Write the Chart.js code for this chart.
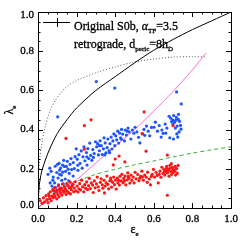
<!DOCTYPE html>
<html>
<head>
<meta charset="utf-8">
<script src="https://cdn.jsdelivr.net/npm/chart.js@4/dist/chart.umd.min.js"></script>
<style>
html, body { margin: 0; padding: 0; background: #fff; }
canvas { display: block; }
</style>
</head>
<body>
<canvas id="lambda-chart" width="245" height="245"></canvas>
<script>
// valores (eps_e, lambda_e)
const tickValues = [0, 0.2, 0.4, 0.6, 0.8, 1.0];
const tickLabels = ['0.0', '0.2', '0.4', '0.6', '0.8', '1.0'];

const solidEps = [0, 0.005, 0.01, 0.02, 0.04, 0.06, 0.1, 0.15, 0.2, 0.3, 0.4, 0.5, 0.6, 0.7, 0.8, 0.9, 1.0];
const solidLam = [0, 0.10, 0.14, 0.19, 0.25, 0.30, 0.38, 0.45, 0.51, 0.60, 0.67, 0.74, 0.805, 0.86, 0.91, 0.955, 1.0];

const dottedEps = [0.005, 0.01, 0.02, 0.036, 0.06, 0.09, 0.12, 0.15, 0.2, 0.3, 0.4, 0.5, 0.6, 0.7, 0.8, 0.87];
const dottedLam = [0.20, 0.26, 0.33, 0.41, 0.49, 0.55, 0.59, 0.62, 0.65, 0.69, 0.72, 0.745, 0.76, 0.77, 0.772, 0.77];

const pinkEps = [0, 0.1, 0.2, 0.3, 0.4, 0.5, 0.6, 0.7, 0.8, 0.87];
const pinkLam = [0, 0.075, 0.145, 0.23, 0.315, 0.40, 0.495, 0.595, 0.705, 0.79];

const greenEps = [0, 0.05, 0.1, 0.2, 0.3, 0.4, 0.5, 0.6, 0.7, 0.8, 0.9, 1.0];
const greenLam = [0, 0.05, 0.09, 0.135, 0.172, 0.198, 0.22, 0.24, 0.26, 0.28, 0.297, 0.312];

const bluePoints = [
  [0.302,0.645],[0.398,0.612],[0.102,0.465],[0.718,0.592],[0.742,0.531],
  [0.052,0.172],[0.061,0.203],[0.068,0.187],[0.079,0.158],[0.086,0.128],[0.091,0.104],[0.089,0.213],
  [0.097,0.181],[0.101,0.223],[0.104,0.153],[0.107,0.118],[0.112,0.193],[0.109,0.228],[0.117,0.204],
  [0.121,0.168],[0.123,0.141],[0.127,0.219],[0.131,0.123],[0.128,0.183],[0.136,0.212],[0.141,0.148],
  [0.082,0.093],[0.072,0.112],[0.096,0.082],[0.119,0.101],[0.152,0.238],[0.156,0.198],[0.162,0.177],
  [0.171,0.252],[0.166,0.223],[0.182,0.163],[0.188,0.201],[0.159,0.139],[0.174,0.196],[0.183,0.232],
  [0.192,0.262],[0.143,0.187],[0.133,0.243],[0.112,0.172],[0.147,0.212],[0.063,0.128],[0.077,0.142],
  [0.198,0.302],[0.203,0.249],[0.206,0.218],[0.212,0.272],[0.218,0.228],[0.224,0.291],[0.229,0.203],
  [0.233,0.261],[0.238,0.312],[0.243,0.241],[0.251,0.283],[0.254,0.219],[0.258,0.303],[0.263,0.252],
  [0.268,0.331],[0.273,0.268],[0.279,0.243],[0.284,0.298],[0.291,0.278],[0.298,0.338],[0.304,0.312],
  [0.309,0.328],[0.313,0.271],[0.318,0.292],[0.322,0.343],[0.328,0.318],[0.333,0.273],[0.339,0.302],
  [0.342,0.358],[0.348,0.332],[0.352,0.281],[0.358,0.308],[0.362,0.352],[0.368,0.292],[0.373,0.328],
  [0.379,0.362],[0.383,0.301],[0.388,0.342],[0.393,0.378],[0.398,0.318],[0.403,0.368],[0.408,0.348],
  [0.413,0.392],[0.418,0.331],[0.423,0.382],[0.428,0.358],[0.433,0.401],[0.439,0.377],[0.448,0.342],
  [0.452,0.398],[0.458,0.372],[0.467,0.408],[0.472,0.388],[0.481,0.352],[0.489,0.398],[0.497,0.382],
  [0.503,0.412],[0.512,0.388],[0.521,0.361],[0.528,0.332],[0.541,0.378],[0.549,0.401],[0.562,0.418],
  [0.571,0.392],[0.579,0.368],[0.601,0.412],[0.608,0.438],[0.619,0.392],[0.628,0.421],[0.638,0.362],
  [0.648,0.381],[0.659,0.428],[0.668,0.408],[0.679,0.468],[0.688,0.458],[0.698,0.448],[0.703,0.472],
  [0.708,0.438],[0.717,0.462],[0.721,0.418],[0.728,0.478],[0.733,0.442],[0.741,0.402],[0.731,0.388],
  [0.719,0.378],[0.712,0.408],[0.699,0.428],[0.692,0.441],[0.738,0.422],[0.724,0.362],[0.702,0.352],
  [0.683,0.358],[0.662,0.382],[0.642,0.398],[0.207,0.192],[0.253,0.261],[0.318,0.318],[0.371,0.282],
  [0.432,0.351],[0.462,0.392],[0.553,0.371],[0.588,0.411],[0.714,0.448],[0.727,0.452],[0.287,0.258],
  [0.346,0.271]
];

const redPoints = [
  [0.55,0.49],[0.275,0.45],[0.24,0.42],[0.145,0.355],[0.70,0.42],[0.54,0.38],[0.67,0.065],
  [0.42,0.265],[0.56,0.29],[0.67,0.27],[0.45,0.235],[0.40,0.25],[0.39,0.22],[0.24,0.30],
  [0.012,0.038],[0.021,0.024],[0.028,0.052],[0.034,0.031],[0.041,0.063],[0.047,0.043],[0.052,0.027],
  [0.055,0.072],[0.061,0.048],[0.064,0.083],[0.068,0.037],[0.073,0.061],[0.076,0.094],[0.079,0.052],
  [0.083,0.071],[0.086,0.104],[0.088,0.058],[0.093,0.082],[0.097,0.047],[0.099,0.091],[0.103,0.068],
  [0.106,0.113],[0.109,0.057],[0.114,0.087],[0.117,0.076],[0.121,0.101],[0.124,0.066],[0.127,0.122],
  [0.131,0.088],[0.134,0.079],[0.137,0.109],[0.142,0.097],[0.146,0.069],[0.149,0.124],[0.151,0.086],
  [0.156,0.113],[0.158,0.078],[0.162,0.103],[0.166,0.132],[0.168,0.072],[0.173,0.093],[0.177,0.114],
  [0.181,0.121],[0.185,0.083],[0.188,0.102],[0.193,0.134],[0.196,0.088],[0.203,0.112],[0.207,0.081],
  [0.212,0.098],[0.216,0.124],[0.221,0.092],[0.226,0.142],[0.231,0.108],[0.237,0.083],[0.242,0.119],
  [0.246,0.101],[0.252,0.133],[0.256,0.094],[0.262,0.114],[0.266,0.151],[0.271,0.099],[0.276,0.128],
  [0.283,0.117],[0.286,0.079],[0.292,0.138],[0.296,0.103],[0.303,0.123],[0.307,0.158],[0.312,0.108],
  [0.316,0.089],[0.323,0.131],[0.327,0.149],[0.333,0.118],[0.336,0.101],[0.342,0.141],[0.344,0.077],
  [0.348,0.112],[0.353,0.128],[0.357,0.163],[0.362,0.121],[0.366,0.098],[0.372,0.139],[0.376,0.153],
  [0.381,0.107],[0.386,0.131],[0.392,0.158],[0.396,0.119],[0.402,0.142],[0.405,0.097],[0.411,0.153],
  [0.414,0.128],[0.422,0.117],[0.425,0.162],[0.431,0.138],[0.435,0.172],[0.441,0.129],[0.444,0.151],
  [0.451,0.163],[0.455,0.118],[0.462,0.144],[0.465,0.179],[0.471,0.152],[0.476,0.127],[0.482,0.168],
  [0.486,0.141],[0.493,0.158],[0.498,0.128],[0.503,0.182],[0.508,0.149],[0.517,0.171],[0.523,0.139],
  [0.532,0.161],[0.538,0.188],[0.546,0.142],[0.553,0.168],[0.561,0.157],[0.568,0.183],[0.576,0.148],
  [0.583,0.118],[0.592,0.172],[0.598,0.197],[0.604,0.158],[0.612,0.181],[0.618,0.166],[0.623,0.128],
  [0.632,0.188],[0.637,0.157],[0.642,0.208],[0.648,0.176],[0.652,0.196],[0.657,0.168],[0.661,0.187],
  [0.667,0.212],[0.671,0.179],[0.676,0.198],[0.679,0.162],[0.684,0.218],[0.688,0.186],[0.692,0.171],
  [0.697,0.207],[0.701,0.182],[0.704,0.196],[0.709,0.188],[0.713,0.168],[0.718,0.201],[0.722,0.177],
  [0.726,0.217],[0.691,0.226],[0.058,0.062],[0.081,0.088],[0.112,0.098],[0.138,0.084],[0.171,0.104],
  [0.378,0.142],[0.418,0.141],[0.448,0.138],[0.468,0.161],[0.527,0.152],[0.587,0.161],[0.655,0.183],
  [0.673,0.192],[0.686,0.203],[0.699,0.191],[0.711,0.212],[0.664,0.201],[0.628,0.172],[0.566,0.131],
  [0.541,0.159]
];

const serif = '"Liberation Serif", "Times New Roman", serif';

function curva(xs, ys) {
  return xs.map((v, i) => ({ x: v, y: ys[i] }));
}

// texto com subscritos: [texto, sub?, italico?]
function escreve(ctx, partes, x, y, tam) {
  partes.forEach(([t, sub, it]) => {
    const s = sub ? Math.round(tam * 0.6) : tam;
    ctx.font = (it ? 'italic ' : '') + s + 'px ' + serif;
    ctx.fillText(t, x, y + (sub ? tam * 0.25 : 0));
    ctx.strokeText(t, x, y + (sub ? tam * 0.25 : 0));
    x += ctx.measureText(t).width;
  });
  return x;
}

function largura(ctx, partes, tam) {
  let w = 0;
  partes.forEach(([t, sub, it]) => {
    const s = sub ? Math.round(tam * 0.6) : tam;
    ctx.font = (it ? 'italic ' : '') + s + 'px ' + serif;
    w += ctx.measureText(t).width;
  });
  return w;
}

const eixosIDL = {
  id: 'eixosIDL',
  afterDraw(chart) {
    const { ctx, chartArea: a, scales: { x, y } } = chart;
    ctx.save();
    ctx.strokeStyle = '#000';
    ctx.fillStyle = '#000';
    ctx.lineWidth = 1;
    ctx.strokeRect(a.left + 0.5, a.top + 0.5, a.right - a.left, a.bottom - a.top);

    // ticks maiores e menores, por dentro da caixa
    ctx.beginPath();
    for (let i = 0; i <= 20; i++) {
      const v = i * 0.05;
      const len = i % 4 === 0 ? 5 : 2.5;
      const px = Math.round(x.getPixelForValue(v)) + 0.5;
      const py = Math.round(y.getPixelForValue(v)) + 0.5;
      ctx.moveTo(px, a.bottom); ctx.lineTo(px, a.bottom - len);
      ctx.moveTo(px, a.top); ctx.lineTo(px, a.top + len);
      ctx.moveTo(a.left, py); ctx.lineTo(a.left + len, py);
      ctx.moveTo(a.right, py); ctx.lineTo(a.right - len, py);
    }
    ctx.stroke();

    // letra um pouco mais grossa, como a fonte do IDL
    ctx.lineWidth = 0.3;
    ctx.font = '11px ' + serif;
    ctx.textBaseline = 'middle';
    ctx.textAlign = 'center';
    tickValues.forEach((v, i) => {
      const px = x.getPixelForValue(v);
      ctx.fillText(tickLabels[i], px, a.bottom + 11);
      ctx.strokeText(tickLabels[i], px, a.bottom + 11);
    });
    ctx.textAlign = 'right';
    tickValues.forEach((v, i) => {
      let py = y.getPixelForValue(v);
      if (i === 0) py -= 3;
      if (i === tickValues.length - 1) py += 3;
      ctx.fillText(tickLabels[i], a.left - 4, py);
      ctx.strokeText(tickLabels[i], a.left - 4, py);
    });

    // titulos dos eixos
    ctx.textAlign = 'left';
    ctx.textBaseline = 'alphabetic';
    const tx = [['\u03b5', false], ['e', true]];
    const cx = (a.left + a.right) / 2;
    escreve(ctx, tx, cx - largura(ctx, tx, 12) / 2, 233, 12);

    ctx.save();
    ctx.translate(13, (a.top + a.bottom) / 2);
    ctx.rotate(-Math.PI / 2);
    const ty = [['\u03bb', false], ['e', true]];
    escreve(ctx, ty, -largura(ctx, ty, 12) / 2, 0, 12);
    ctx.restore();

    // legenda
    ctx.lineWidth = 1;
    ctx.beginPath();
    ctx.moveTo(43, 22.5); ctx.lineTo(70, 22.5);
    ctx.moveTo(57.5, 18); ctx.lineTo(57.5, 27);
    ctx.stroke();
    ctx.lineWidth = 0.3;
    escreve(ctx, [['Original S0b, ', false], ['\u03b1', false, true], ['TF', true], ['=3.5', false]], 74, 29.5, 12);
    escreve(ctx, [['retrograde, d', false], ['peric', true], ['=8h', false], ['D', true]], 74, 47.5, 12);
    ctx.restore();
  }
};

new Chart(document.getElementById('lambda-chart'), {
  type: 'scatter',
  data: {
    datasets: [
      {
        data: bluePoints.map(p => ({ x: p[0], y: p[1] })),
        backgroundColor: '#1f55ff', borderWidth: 0,
        pointRadius: 1.6, pointStyle: 'circle', order: 1
      },
      {
        data: redPoints.map(p => ({ x: p[0], y: p[1] })),
        backgroundColor: '#ff1414', borderWidth: 0,
        pointRadius: 1.6, pointStyle: 'circle', order: 0
      },
      {
        data: curva(solidEps, solidLam), showLine: true, pointRadius: 0,
        borderColor: '#000', borderWidth: 1, tension: 0.3, order: 3
      },
      {
        data: curva(dottedEps, dottedLam), showLine: true, pointRadius: 0,
        borderColor: '#555', borderWidth: 1, borderDash: [1, 2], tension: 0.3, order: 4
      },
      {
        data: curva(pinkEps, pinkLam), showLine: true, pointRadius: 0,
        borderColor: '#ff66dd', borderWidth: 1, tension: 0.3, order: 2
      },
      {
        data: curva(greenEps, greenLam), showLine: true, pointRadius: 0,
        borderColor: '#3caa3c', borderWidth: 1, borderDash: [4, 3], tension: 0.3, order: 2
      }
    ]
  },
  options: {
    responsive: false,
    animation: false,
    devicePixelRatio: 1,
    layout: { padding: { left: 38, top: 12, right: 14, bottom: 37 } },
    plugins: { legend: { display: false }, tooltip: { enabled: false } },
    scales: {
      x: { type: 'linear', min: 0, max: 1, display: false },
      y: { type: 'linear', min: 0, max: 1, display: false }
    }
  },
  plugins: [eixosIDL]
});
</script>
</body>
</html>
